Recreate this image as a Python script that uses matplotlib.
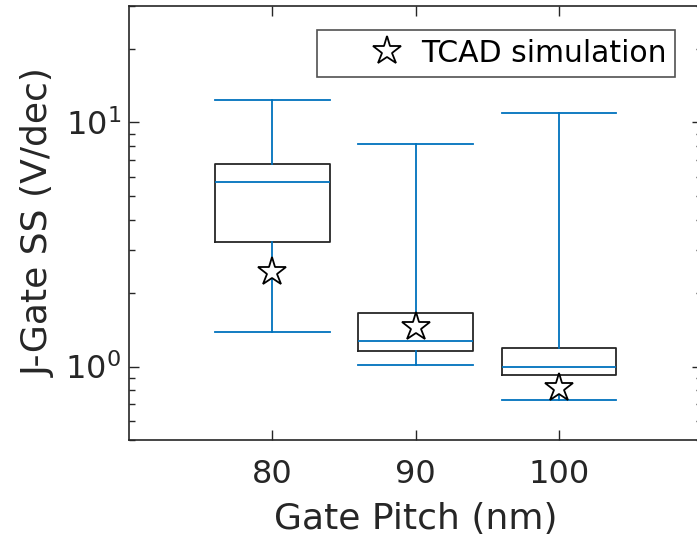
import matplotlib.pyplot as plt
from matplotlib.lines import Line2D

pitch = [80, 90, 100]
whisk_hi = [12.4, 8.13, 10.96]
q3 = [6.75, 1.66, 1.19]
median = [5.69, 1.27, 1.0]
q1 = [3.24, 1.16, 0.924]
whisk_lo = [1.39, 1.01, 0.727]
tcad = [2.44, 1.45, 0.82]

blue = '#0072BD'
dark = '#262626'

plt.rcParams['font.family'] = 'DejaVu Sans'
fig = plt.figure(figsize=(6.97, 5.42), dpi=100)
ax = fig.add_axes([0.1855, 0.1882, 0.8217, 0.8007])

stats = []
for i in range(len(pitch)):
    stats.append({'med': median[i], 'q1': q1[i], 'q3': q3[i],
                  'whislo': whisk_lo[i], 'whishi': whisk_hi[i], 'fliers': []})

ax.bxp(stats, positions=pitch, widths=8, showfliers=False,
       boxprops=dict(color=dark, linewidth=1.3),
       medianprops=dict(color=blue, linewidth=1.3),
       whiskerprops=dict(color=blue, linewidth=1.3),
       capprops=dict(color=blue, linewidth=1.3), capwidths=8)

ax.plot(pitch, tcad, linestyle='none', marker='*', markersize=21,
        markerfacecolor='white', markeredgecolor='black', markeredgewidth=1.3,
        zorder=5)

ax.set_yscale('log')
ax.set_ylim(0.5, 30)
ax.set_xlim(70, 110)
ax.set_xticks(pitch)
ax.set_xticklabels([str(p) for p in pitch])

ax.tick_params(which='both', direction='in', top=True, right=True,
               colors=dark, labelcolor=dark, labelsize=23)
ax.tick_params(which='major', length=7, width=1)
ax.tick_params(which='minor', length=4, width=1)
ax.tick_params(axis='x', pad=14)
ax.tick_params(axis='y', pad=6)
for s in ax.spines.values():
    s.set_color(dark)
    s.set_linewidth(1.2)

ax.set_xlabel('Gate Pitch (nm)', fontsize=26, color=dark, labelpad=8)
ax.set_ylabel('J-Gate SS (V/dec)', fontsize=26, color=dark, labelpad=7)

h = Line2D([], [], linestyle='none', marker='*', markersize=21,
           markerfacecolor='white', markeredgecolor='black', markeredgewidth=1.3)
leg = ax.legend([h], ['TCAD simulation'], loc='upper right',
                bbox_to_anchor=(0.953, 0.945), borderaxespad=0, fontsize=21.5,
                frameon=True, fancybox=False, handletextpad=-0.94,
                borderpad=0.3, handlelength=4.1)
leg.get_frame().set_edgecolor(dark)
leg.get_frame().set_linewidth(1.2)
for t in leg.get_texts():
    t.set_color('black')

fig.savefig('out.png', dpi=100)
